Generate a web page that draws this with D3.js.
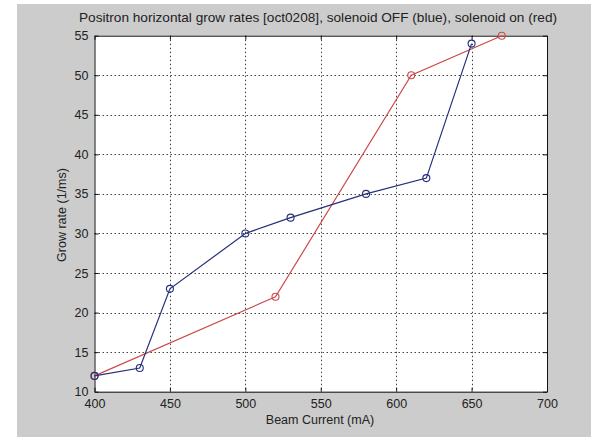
<!DOCTYPE html>
<html>
<head>
<meta charset="utf-8">
<script src="https://cdn.jsdelivr.net/npm/d3@7"></script>
<style>
  html, body { margin: 0; padding: 0; background: #ffffff; }
  svg { display: block; }
  text { font-family: "Liberation Sans", Arial, sans-serif; fill: #222; }
</style>
</head>
<body>
<svg id="chart" width="591" height="437"></svg>
<script>
// Grow rate vs beam current
const offCurrent = [400, 430, 450, 500, 530, 580, 620, 650];
const offRate    = [12, 13, 23, 30, 32, 35, 37, 54];
const onCurrent  = [400, 520, 610, 670];
const onRate     = [12, 22, 50, 55];
const xTicks = [400, 450, 500, 550, 600, 650, 700];
const yTicks = [10, 15, 20, 25, 30, 35, 40, 45, 50, 55];

const W = 591, H = 437;
const plot = { left: 94.5, right: 547, top: 35.7, bottom: 391.7 };

const svg = d3.select("#chart");

// figure background
svg.append("rect").attr("x", 17).attr("y", 4)
  .attr("width", W - 17).attr("height", H - 4).attr("fill", "#cccccc");

const x = d3.scaleLinear().domain([400, 700]).range([plot.left, plot.right]);
const y = d3.scaleLinear().domain([10, 55]).range([plot.bottom, plot.top]);

// axes area
svg.append("rect").attr("x", plot.left).attr("y", plot.top)
  .attr("width", plot.right - plot.left).attr("height", plot.bottom - plot.top)
  .attr("fill", "#ffffff");

// dotted grid
const grid = svg.append("g").attr("stroke", "#444").attr("stroke-width", 1)
  .attr("stroke-dasharray", "1.5,2.5");
grid.selectAll(".gx").data(xTicks.slice(1, -1)).join("line")
  .attr("x1", d => Math.round(x(d)) + 0.5).attr("x2", d => Math.round(x(d)) + 0.5)
  .attr("y1", plot.top).attr("y2", plot.bottom);
grid.selectAll(".gy").data(yTicks.slice(1, -1)).join("line")
  .attr("y1", d => Math.round(y(d)) + 0.5).attr("y2", d => Math.round(y(d)) + 0.5)
  .attr("x1", plot.left).attr("x2", plot.right);

// axes with inward ticks
const tickLen = 4;
const bottomAxis = d3.axisBottom(x).tickValues(xTicks).tickFormat(d3.format("d"))
  .tickSizeInner(-tickLen).tickSizeOuter(0).tickPadding(7);
const topAxis = d3.axisTop(x).tickValues(xTicks).tickFormat("")
  .tickSizeInner(-tickLen).tickSizeOuter(0);
const leftAxis = d3.axisLeft(y).tickValues(yTicks).tickFormat(d3.format("d"))
  .tickSizeInner(-tickLen).tickSizeOuter(0).tickPadding(6);
const rightAxis = d3.axisRight(y).tickValues(yTicks).tickFormat("")
  .tickSizeInner(-tickLen).tickSizeOuter(0);

function styleAxis(g) {
  g.select(".domain").attr("stroke", "#111");
  g.selectAll(".tick line").attr("stroke", "#111");
  g.selectAll(".tick text").attr("fill", "#222")
    .style("font-size", "12.5px").style("font-family", "'Liberation Sans', Arial, sans-serif");
}
svg.append("g").attr("transform", `translate(0,${plot.bottom})`).call(bottomAxis).call(styleAxis);
svg.append("g").attr("transform", `translate(0,${plot.top})`).call(topAxis).call(styleAxis);
svg.append("g").attr("transform", `translate(${plot.left},0)`).call(leftAxis).call(styleAxis);
svg.append("g").attr("transform", `translate(${plot.right},0)`).call(rightAxis).call(styleAxis);

// series
const line = d3.line().x(d => x(d[0])).y(d => y(d[1]));
function series(xs, ys, color, r) {
  const pts = xs.map((v, i) => [v, ys[i]]);
  svg.append("path").datum(pts).attr("d", line)
    .attr("fill", "none").attr("stroke", color).attr("stroke-width", 1.2);
  svg.append("g").selectAll("circle").data(pts).join("circle")
    .attr("cx", d => x(d[0])).attr("cy", d => y(d[1])).attr("r", r)
    .attr("fill", "none").attr("stroke", color).attr("stroke-width", 1.1);
}
series(onCurrent, onRate, "#cc4a4a", 3.5);
series(offCurrent, offRate, "#25307a", 3.5);

// labels
svg.append("text").attr("x", 318).attr("y", 22).attr("text-anchor", "middle")
  .attr("textLength", 478).attr("lengthAdjust", "spacingAndGlyphs")
  .style("font-size", "13px")
  .text("Positron horizontal grow rates [oct0208], solenoid OFF (blue), solenoid on (red)");
svg.append("text").attr("x", 320).attr("y", 424).attr("text-anchor", "middle")
  .style("font-size", "12.5px").text("Beam Current (mA)");
svg.append("text").attr("transform", "translate(66,215) rotate(-90)")
  .attr("text-anchor", "middle").style("font-size", "12.5px").text("Grow rate (1/ms)");
</script>
</body>
</html>
